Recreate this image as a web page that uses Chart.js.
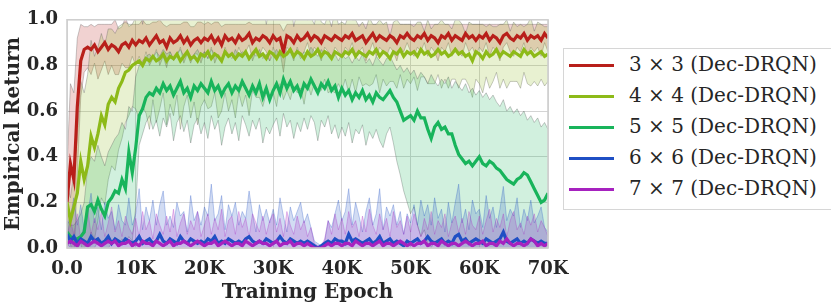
<!DOCTYPE html>
<html>
<head>
<meta charset="utf-8">
<script src="https://cdn.jsdelivr.net/npm/chart.js@4.4.1/dist/chart.umd.min.js"></script>
<style>
html,body{margin:0;padding:0;background:#fff;overflow:hidden;}
#wrap{position:relative;width:831px;height:305px;}
#legend{position:absolute;left:563px;top:48px;width:275px;height:162px;border:1px solid #d6d6d6;box-sizing:border-box;font-family:"DejaVu Serif",serif;font-size:20px;color:#262626;background:#fff;}
.row{position:absolute;left:0;height:31px;width:100%;}
.sw{position:absolute;left:5px;width:45px;height:3px;top:14px;}
.tx{position:absolute;left:65px;top:2px;white-space:nowrap;line-height:25px;}
</style>
</head>
<body>
<div id="wrap">
<canvas id="c" width="831" height="305"></canvas>
<div id="legend"></div>
</div>
<script>
// ---------------- data (epoch step 500, 0..70K) ----------------
const seriesNames = ["3 × 3 (Dec-DRQN)","4 × 4 (Dec-DRQN)","5 × 5 (Dec-DRQN)","6 × 6 (Dec-DRQN)","7 × 7 (Dec-DRQN)"];
const seriesColors = ["#b81f1a","#8dba18","#18b45b","#1f4fc4","#a622bf"];
const xTickLabels = ["0.0","10K","20K","30K","40K","50K","60K","70K"];
const yTickLabels = ["0.0","0.2","0.4","0.6","0.8","1.0"];

const red3Mean = [
0.20,0.37,0.30,0.62,0.82,0.87,0.88,0.87,0.89,0.86,0.88,0.90,0.87,0.89,0.88,0.86,0.89,0.90,0.88,0.91,
0.89,0.91,0.90,0.92,0.89,0.91,0.93,0.90,0.91,0.88,0.92,0.90,0.91,0.93,0.90,0.92,0.89,0.91,0.92,0.90,
0.92,0.91,0.93,0.90,0.92,0.89,0.93,0.91,0.92,0.90,0.93,0.91,0.92,0.94,0.90,0.92,0.91,0.93,0.92,0.90,
0.93,0.91,0.92,0.86,0.93,0.92,0.90,0.93,0.91,0.92,0.94,0.91,0.93,0.92,0.90,0.93,0.92,0.91,0.93,0.92,
0.91,0.93,0.92,0.94,0.91,0.92,0.93,0.90,0.92,0.94,0.91,0.93,0.92,0.91,0.93,0.92,0.90,0.93,0.92,0.94,
0.92,0.91,0.93,0.92,0.94,0.91,0.93,0.92,0.90,0.93,0.92,0.94,0.91,0.93,0.92,0.91,0.94,0.92,0.93,0.91,
0.93,0.92,0.94,0.91,0.93,0.92,0.90,0.93,0.94,0.92,0.91,0.93,0.92,0.94,0.91,0.93,0.92,0.93,0.91,0.94,0.92];
const red3Std = [
0.15,0.35,0.38,0.30,0.16,0.10,0.09,0.11,0.08,0.12,0.10,0.08,0.11,0.09,0.12,0.10,0.08,0.11,0.09,0.07,
0.09,0.07,0.10,0.06,0.09,0.08,0.06,0.10,0.07,0.09,0.06,0.08,0.07,0.05,0.09,0.07,0.08,0.06,0.07,0.09,
0.06,0.08,0.05,0.09,0.07,0.08,0.05,0.07,0.06,0.08,0.05,0.07,0.06,0.05,0.08,0.06,0.07,0.05,0.06,0.08,
0.05,0.07,0.06,0.09,0.05,0.06,0.08,0.05,0.07,0.06,0.04,0.07,0.05,0.06,0.08,0.05,0.06,0.07,0.05,0.06,
0.07,0.05,0.06,0.04,0.07,0.06,0.05,0.08,0.06,0.04,0.07,0.05,0.06,0.07,0.05,0.06,0.08,0.05,0.06,0.04,
0.06,0.07,0.05,0.06,0.04,0.07,0.05,0.06,0.08,0.05,0.06,0.04,0.07,0.05,0.06,0.07,0.04,0.06,0.05,0.07,
0.05,0.06,0.04,0.07,0.05,0.06,0.08,0.05,0.04,0.06,0.07,0.05,0.06,0.04,0.07,0.05,0.06,0.05,0.07,0.04,0.06];

const lime4Mean = [
0.20,0.12,0.18,0.24,0.38,0.30,0.36,0.49,0.44,0.50,0.58,0.54,0.63,0.66,0.64,0.70,0.73,0.77,0.78,0.80,
0.81,0.82,0.80,0.83,0.82,0.84,0.82,0.83,0.85,0.82,0.84,0.83,0.85,0.82,0.84,0.86,0.83,0.84,0.82,0.85,
0.84,0.86,0.83,0.85,0.84,0.82,0.86,0.84,0.85,0.83,0.85,0.84,0.86,0.83,0.85,0.87,0.84,0.85,0.83,0.86,
0.85,0.83,0.86,0.84,0.85,0.87,0.84,0.86,0.85,0.83,0.86,0.84,0.85,0.87,0.84,0.86,0.85,0.83,0.86,0.85,
0.84,0.86,0.85,0.87,0.84,0.86,0.85,0.84,0.86,0.85,0.87,0.84,0.86,0.85,0.83,0.86,0.85,0.87,0.84,0.86,
0.85,0.86,0.84,0.87,0.85,0.86,0.84,0.85,0.87,0.85,0.86,0.84,0.85,0.87,0.85,0.86,0.84,0.85,0.82,0.86,
0.85,0.83,0.86,0.84,0.85,0.87,0.84,0.86,0.85,0.84,0.86,0.85,0.84,0.87,0.85,0.86,0.84,0.85,0.86,0.84,0.85];
const lime4Std = [
0.08,0.10,0.15,0.25,0.35,0.38,0.40,0.42,0.40,0.38,0.36,0.35,0.33,0.30,0.30,0.27,0.25,0.22,0.20,0.18,
0.20,0.26,0.18,0.24,0.30,0.19,0.27,0.22,0.17,0.28,0.21,0.25,0.18,0.30,0.22,0.19,0.26,0.20,0.28,0.23,
0.19,0.25,0.21,0.17,0.27,0.22,0.18,0.24,0.20,0.26,0.17,0.22,0.19,0.25,0.16,0.21,0.18,0.23,0.15,0.20,
0.17,0.21,0.14,0.19,0.16,0.22,0.13,0.18,0.15,0.20,0.14,0.17,0.13,0.19,0.15,0.12,0.17,0.14,0.18,0.13,
0.15,0.12,0.17,0.13,0.16,0.11,0.14,0.12,0.15,0.13,0.11,0.16,0.12,0.14,0.10,0.13,0.15,0.11,0.14,0.12,
0.13,0.11,0.15,0.12,0.10,0.14,0.12,0.13,0.11,0.15,0.12,0.14,0.11,0.13,0.15,0.12,0.10,0.14,0.16,0.12,
0.13,0.15,0.11,0.14,0.12,0.10,0.14,0.12,0.15,0.11,0.13,0.12,0.14,0.10,0.13,0.15,0.11,0.14,0.12,0.13,0.12];

const green5Mean = [
0.07,0.05,0.04,0.04,0.05,0.07,0.18,0.19,0.16,0.21,0.17,0.14,0.20,0.22,0.25,0.24,0.30,0.26,0.42,0.33,
0.44,0.58,0.61,0.66,0.68,0.67,0.70,0.68,0.72,0.69,0.71,0.67,0.70,0.73,0.68,0.70,0.66,0.71,0.69,0.72,
0.70,0.68,0.73,0.69,0.71,0.67,0.70,0.72,0.68,0.71,0.69,0.73,0.70,0.67,0.71,0.68,0.72,0.66,0.70,0.65,
0.69,0.72,0.68,0.74,0.70,0.73,0.69,0.71,0.67,0.72,0.70,0.74,0.71,0.68,0.72,0.70,0.73,0.69,0.71,0.66,
0.70,0.67,0.69,0.65,0.68,0.66,0.69,0.65,0.67,0.64,0.68,0.66,0.65,0.67,0.69,0.66,0.64,0.60,0.56,0.57,
0.58,0.56,0.60,0.57,0.57,0.52,0.48,0.53,0.55,0.52,0.53,0.50,0.50,0.45,0.41,0.39,0.37,0.38,0.36,0.38,
0.40,0.37,0.36,0.38,0.37,0.35,0.34,0.32,0.30,0.29,0.28,0.30,0.31,0.33,0.32,0.29,0.26,0.23,0.20,0.21,0.24];
const green5Lo = [
0.02,0.00,0.00,0.00,0.00,0.00,0.02,0.00,0.00,0.03,0.00,0.00,0.00,0.02,0.03,0.00,0.04,0.02,0.05,0.03,
0.18,0.45,0.50,0.55,0.58,0.52,0.56,0.49,0.57,0.53,0.59,0.47,0.55,0.58,0.51,0.56,0.46,0.54,0.57,0.50,
0.55,0.48,0.58,0.52,0.56,0.45,0.53,0.57,0.50,0.55,0.47,0.58,0.54,0.49,0.56,0.52,0.57,0.46,0.53,0.50,
0.54,0.57,0.49,0.59,0.53,0.56,0.48,0.55,0.51,0.57,0.52,0.58,0.55,0.47,0.56,0.53,0.58,0.50,0.54,0.48,
0.53,0.49,0.55,0.46,0.52,0.50,0.54,0.45,0.51,0.48,0.52,0.47,0.44,0.50,0.53,0.46,0.38,0.32,0.25,0.20,
0.15,0.18,0.10,0.05,0.08,0.02,0.00,0.03,0.00,0.00,0.00,0.00,0.00,0.00,0.00,0.00,0.00,0.00,0.00,0.00,
0.00,0.00,0.00,0.00,0.00,0.00,0.00,0.00,0.00,0.00,0.00,0.00,0.00,0.00,0.00,0.00,0.00,0.00,0.00,0.00,0.00];
const green5Hi = [
0.12,0.10,0.10,0.12,0.15,0.20,0.35,0.40,0.38,0.45,0.40,0.36,0.42,0.45,0.48,0.50,0.55,0.52,0.62,0.60,
0.75,0.80,0.82,0.84,0.85,0.83,0.86,0.84,0.87,0.85,0.86,0.83,0.85,0.87,0.84,0.86,0.82,0.85,0.87,0.84,
0.86,0.83,0.87,0.85,0.84,0.82,0.86,0.85,0.83,0.87,0.84,0.86,0.85,0.82,0.86,0.84,0.87,0.83,0.85,0.82,
0.85,0.87,0.84,0.88,0.85,0.86,0.84,0.87,0.83,0.86,0.85,0.88,0.86,0.84,0.87,0.85,0.86,0.84,0.85,0.82,
0.85,0.83,0.84,0.81,0.84,0.82,0.85,0.81,0.83,0.80,0.84,0.82,0.80,0.83,0.84,0.81,0.78,0.80,0.77,0.79,
0.76,0.78,0.74,0.77,0.75,0.72,0.76,0.73,0.71,0.74,0.72,0.75,0.70,0.73,0.71,0.69,0.72,0.68,0.70,0.67,
0.69,0.66,0.68,0.65,0.67,0.64,0.62,0.65,0.60,0.62,0.59,0.61,0.58,0.60,0.56,0.58,0.55,0.57,0.53,0.55,0.52];

const blue6Mean = [
0.06,0.03,0.05,0.02,0.04,0.03,0.02,0.05,0.03,0.04,0.02,0.03,0.05,0.02,0.04,0.03,0.02,0.04,0.03,0.02,
0.03,0.05,0.02,0.03,0.04,0.02,0.03,0.06,0.03,0.02,0.04,0.03,0.02,0.05,0.03,0.02,0.04,0.03,0.02,0.03,
0.02,0.04,0.03,0.05,0.02,0.03,0.02,0.04,0.03,0.02,0.03,0.02,0.04,0.05,0.03,0.02,0.03,0.02,0.04,0.03,
0.02,0.03,0.05,0.03,0.02,0.04,0.03,0.02,0.03,0.02,0.03,0.02,0.01,0.00,0.01,0.02,0.03,0.02,0.04,0.03,
0.03,0.02,0.06,0.03,0.04,0.03,0.02,0.03,0.04,0.02,0.03,0.05,0.02,0.03,0.04,0.02,0.03,0.02,0.01,0.03,
0.02,0.03,0.04,0.02,0.03,0.05,0.03,0.02,0.03,0.04,0.02,0.03,0.02,0.05,0.06,0.03,0.04,0.02,0.03,0.04,
0.03,0.02,0.04,0.03,0.02,0.03,0.04,0.07,0.03,0.02,0.03,0.04,0.02,0.03,0.02,0.04,0.03,0.02,0.03,0.02,0.02];
const blue6Hi = [
0.10,0.14,0.22,0.10,0.19,0.08,0.15,0.24,0.11,0.18,0.08,0.20,0.13,0.16,0.08,0.19,0.12,0.10,0.22,0.10,
0.15,0.26,0.08,0.18,0.12,0.21,0.10,0.19,0.25,0.10,0.14,0.09,0.20,0.14,0.16,0.07,0.23,0.12,0.16,0.10,
0.18,0.14,0.28,0.12,0.15,0.23,0.08,0.19,0.14,0.20,0.10,0.16,0.13,0.25,0.15,0.07,0.19,0.12,0.17,0.11,
0.17,0.10,0.22,0.14,0.07,0.18,0.12,0.16,0.20,0.11,0.15,0.09,0.03,0.02,0.01,0.03,0.12,0.09,0.15,0.21,
0.12,0.16,0.26,0.10,0.20,0.14,0.07,0.16,0.22,0.10,0.15,0.26,0.08,0.18,0.14,0.19,0.10,0.16,0.06,0.15,
0.11,0.19,0.10,0.21,0.14,0.19,0.10,0.22,0.13,0.17,0.07,0.20,0.11,0.20,0.28,0.11,0.17,0.08,0.21,0.15,
0.17,0.09,0.23,0.13,0.18,0.09,0.17,0.27,0.12,0.17,0.14,0.22,0.09,0.17,0.12,0.21,0.11,0.14,0.18,0.09,0.07];

const purple7Mean = [
0.02,0.03,0.02,0.01,0.03,0.02,0.01,0.02,0.03,0.02,0.01,0.02,0.03,0.02,0.03,0.01,0.02,0.02,0.03,0.01,
0.02,0.01,0.03,0.02,0.02,0.01,0.03,0.02,0.01,0.02,0.03,0.01,0.02,0.02,0.03,0.02,0.01,0.02,0.03,0.02,
0.01,0.02,0.02,0.03,0.01,0.02,0.03,0.02,0.01,0.02,0.02,0.01,0.03,0.02,0.01,0.02,0.03,0.02,0.02,0.01,
0.02,0.03,0.01,0.02,0.02,0.03,0.01,0.02,0.02,0.01,0.02,0.01,0.00,0.00,0.00,0.01,0.02,0.01,0.02,0.02,
0.01,0.02,0.02,0.01,0.03,0.02,0.01,0.02,0.02,0.01,0.02,0.03,0.01,0.02,0.02,0.01,0.02,0.03,0.02,0.01,
0.02,0.01,0.02,0.02,0.03,0.01,0.02,0.02,0.01,0.03,0.02,0.01,0.02,0.02,0.01,0.02,0.03,0.02,0.01,0.02,
0.02,0.03,0.01,0.02,0.02,0.01,0.03,0.02,0.04,0.02,0.01,0.02,0.02,0.01,0.02,0.04,0.03,0.01,0.02,0.01,0.02];
const purple7Hi = [
0.05,0.12,0.06,0.15,0.04,0.10,0.17,0.06,0.13,0.08,0.16,0.05,0.11,0.18,0.07,0.12,0.05,0.14,0.09,0.06,
0.13,0.05,0.16,0.08,0.12,0.04,0.15,0.10,0.06,0.14,0.07,0.17,0.05,0.11,0.15,0.06,0.12,0.08,0.16,0.05,
0.10,0.15,0.06,0.13,0.08,0.17,0.05,0.12,0.14,0.06,0.16,0.09,0.13,0.05,0.15,0.11,0.07,0.14,0.06,0.12,
0.15,0.07,0.13,0.05,0.16,0.10,0.06,0.14,0.08,0.12,0.05,0.09,0.02,0.01,0.01,0.04,0.12,0.06,0.15,0.08,
0.13,0.06,0.16,0.09,0.12,0.05,0.14,0.07,0.17,0.10,0.06,0.15,0.08,0.13,0.05,0.16,0.09,0.12,0.06,0.14,
0.07,0.15,0.10,0.05,0.13,0.08,0.16,0.06,0.12,0.09,0.15,0.05,0.11,0.14,0.07,0.13,0.06,0.16,0.10,0.08,
0.14,0.06,0.12,0.17,0.07,0.13,0.09,0.15,0.05,0.12,0.16,0.08,0.11,0.06,0.14,0.10,0.15,0.07,0.12,0.09,0.05];

const epochStep = 500;
const epochs = red3Mean.map((_, i) => i * epochStep);

// ---------------- build datasets ----------------
function pts(arr){ return arr.map((v,i)=>({x:epochs[i], y:v})); }
function rgba(hex,a){ const n=parseInt(hex.slice(1),16); return `rgba(${n>>16&255},${n>>8&255},${n&255},${a})`; }

const lineInfo = [
  {mean:red3Mean, lo:red3Mean.map((m,i)=>m-red3Std[i]), hi:red3Mean.map((m,i)=>m+red3Std[i])},
  {mean:lime4Mean, lo:lime4Mean.map((m,i)=>m-lime4Std[i]), hi:lime4Mean.map((m,i)=>m+lime4Std[i])},
  {mean:green5Mean, lo:green5Lo, hi:green5Hi},
  {mean:blue6Mean, lo:null, hi:blue6Hi},
  {mean:purple7Mean, lo:null, hi:purple7Hi}
];

const datasets = [];
lineInfo.forEach((s, k) => {
  const col = seriesColors[k];
  const bandOrder = 9 - k;     // red band drawn first
  const lineOrder = 4 - k;     // purple line on top
  const edge = k < 3 ? 'rgba(95,95,95,0.38)' : rgba(col,0.32);
  if (s.lo) {
    datasets.push({label:seriesNames[k]+' hi', data:pts(s.hi), borderColor:edge, borderWidth:0.9,
      pointRadius:0, fill:'+1', backgroundColor:rgba(col,0.20), order:bandOrder, tension:0});
    datasets.push({label:seriesNames[k]+' lo', data:pts(s.lo), borderColor:edge, borderWidth:0.9,
      pointRadius:0, fill:false, order:bandOrder, tension:0});
  } else {
    datasets.push({label:seriesNames[k]+' hi', data:pts(s.hi), borderColor:edge, borderWidth:0.9,
      pointRadius:0, fill:'origin', backgroundColor:rgba(col,0.20), order:bandOrder, tension:0});
  }
  datasets.push({label:seriesNames[k], data:pts(s.mean), borderColor:col, borderWidth:3.2,
    pointRadius:0, fill:false, order:lineOrder, tension:0});
});

const boxPlugin = {
  id:'box',
  afterDraw(chart){
    const {ctx, chartArea:a} = chart;
    ctx.save();
    ctx.strokeStyle = '#cfcfcf';
    ctx.lineWidth = 1.6;
    ctx.strokeRect(a.left, a.top, a.right-a.left, a.bottom-a.top);
    ctx.restore();
  }
};

const tickFont = {family:'"DejaVu Serif", serif', size:18, weight:'bold'};
const titleFont = {family:'"DejaVu Serif", serif', size:20, weight:'bold'};

new Chart(document.getElementById('c'), {
  type:'line',
  data:{datasets},
  plugins:[boxPlugin],
  options:{
    responsive:false, animation:false, devicePixelRatio:1,
    layout:{padding:{left:0, right:283, top:9, bottom:0}},
    plugins:{legend:{display:false}, tooltip:{enabled:false}},
    scales:{
      x:{type:'linear', min:0, max:70000,
        afterFit(s){ s.height = 57; },
        grid:{color:'#d4d4d4', lineWidth:1, drawTicks:false},
        border:{display:false},
        ticks:{stepSize:10000, padding:11, color:'#262626', font:tickFont, maxRotation:0,
          callback:(v)=> xTickLabels[Math.round(v/10000)]},
        title:{display:true, text:'Training Epoch', color:'#262626', font:titleFont, padding:{top:0,bottom:0}}
      },
      y:{type:'linear', min:0, max:1,
        afterFit(s){ s.width = 67; },
        grid:{color:'#d4d4d4', lineWidth:1, drawTicks:false},
        border:{display:false},
        ticks:{stepSize:0.2, padding:9, color:'#262626', font:tickFont,
          callback:(v)=> yTickLabels[Math.round(v/0.2)]},
        title:{display:true, text:'Empirical Return', color:'#262626', font:titleFont, padding:{top:2,bottom:0}}
      }
    }
  }
});

// ---------------- HTML legend ----------------
const leg = document.getElementById('legend');
seriesNames.forEach((name, k) => {
  const r = document.createElement('div');
  r.className = 'row';
  r.style.top = (1 + k*31) + 'px';
  const sw = document.createElement('div');
  sw.className = 'sw';
  sw.style.background = seriesColors[k];
  const tx = document.createElement('div');
  tx.className = 'tx';
  tx.textContent = name;
  r.appendChild(sw); r.appendChild(tx);
  leg.appendChild(r);
});
</script>
</body>
</html>
